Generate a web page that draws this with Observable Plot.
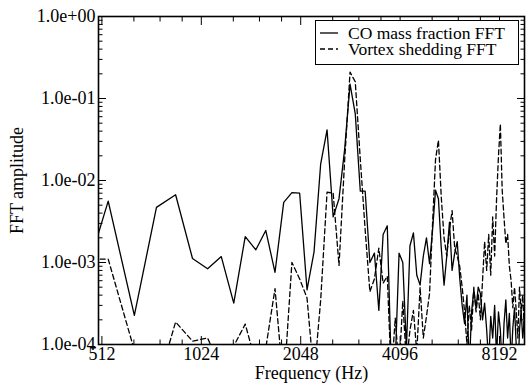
<!DOCTYPE html>
<html><head><meta charset="utf-8">
<script src="https://cdn.jsdelivr.net/npm/d3@7"></script>
<script src="https://cdn.jsdelivr.net/npm/@observablehq/plot@0.6"></script>
<style>
body{margin:0;background:#fff;}
#wrap{position:relative;width:527px;height:384px;}
#legend{position:absolute;left:315px;top:20px;}
</style></head><body><div id="wrap"></div>
<script>
// FFT bin frequencies (Hz)
const freq = [428,535,642,749,856,963,1070,1177,1284,1391,1498,1605,1712,1819,1926,2033,2140,2247,2354,2461,2568,2675,2782,2889,2996,3103,3210,3317,3424,3531,3638,3745,3852,3959,4066,4173,4280,4387,4494,4601,4708,4815,4922,5029,5136,5243,5350,5457,5564,5671,5778,5885,5992,6099,6206,6313,6420,6527,6634,6741,6848,6955,7062,7169,7276,7383,7490,7597,7704,7811,7918,8025,8132,8239,8346,8453,8560,8667,8774,8881,8988,9095,9202,9309,9416,9523,9630,9737];
// CO mass fraction FFT amplitude
const coFFT = [2.9e-4,5.6e-3,2.26e-4,4.7e-3,6.7e-3,1.12e-3,8.4e-4,1.18e-3,3.2e-4,2.07e-3,1.43e-3,2.46e-3,7.6e-4,5.4e-3,7.1e-3,7.0e-3,4.65e-4,1.34e-3,1.6e-2,4.15e-2,3.6e-3,6.0e-3,2.4e-2,0.15,6.5e-2,7.4e-3,7.4e-3,1.0e-3,1.3e-3,2.6e-4,2.2e-3,2.8e-3,5e-5,6e-5,1.3e-3,1.0e-3,9e-5,1.6e-3,2.3e-3,7e-4,5.3e-4,1.2e-3,2.0e-3,9.7e-4,2.5e-3,7.6e-3,6.0e-3,1.5e-3,5.3e-4,1.2e-3,3.1e-3,8e-4,1.3e-3,1.8e-3,6.5e-4,3.0e-4,1.8e-4,4.0e-4,5e-5,2.5e-4,4.6e-4,2.8e-4,5.0e-4,4.2e-4,2.0e-4,3.2e-4,1.5e-4,6e-5,2.2e-4,1.2e-4,3e-4,7e-5,2.5e-4,1.5e-4,5e-5,1.8e-4,3.5e-4,1.2e-4,2.4e-4,6e-5,1.6e-4,2.8e-4,1.0e-4,4e-5,1.5e-4,2.6e-4,1.2e-4,2e-4];
// Vortex shedding FFT amplitude
const vortexFFT = [1.1e-3,1.1e-3,8.5e-5,3e-5,1.88e-4,1.1e-4,1.2e-4,5e-5,9.6e-5,1.77e-4,6e-5,9e-5,4.8e-4,3e-5,1.0e-3,6.3e-4,3.7e-4,4e-5,3.5e-4,7.2e-3,7.0e-3,9.2e-4,1.75e-2,0.21,0.16,1.8e-2,2.5e-3,4.4e-4,6.3e-4,1.5e-3,5.6e-4,6.8e-4,4e-5,2.1e-4,5e-5,3.4e-4,6e-5,1.5e-4,2.6e-4,8e-5,5e-4,1.2e-4,2.2e-4,4.2e-4,3e-3,1.8e-2,3.1e-2,6.3e-3,2.0e-3,1.2e-3,2.5e-3,4.3e-3,1.5e-3,1.2e-3,9e-4,5e-4,2.5e-4,1e-4,3e-4,1.5e-4,5e-4,2.5e-4,4.2e-4,2e-4,6e-4,1.8e-3,8e-4,2.2e-3,7e-4,3.6e-3,1.2e-3,6e-3,2e-2,4.9e-2,7.6e-3,3.5e-3,1.7e-3,2.2e-3,9e-4,6e-4,2.8e-4,5e-4,2.6e-4,1.2e-4,5e-4,2.5e-4,4e-4,1.5e-4];
const seriesNames = ["CO mass fraction FFT", "Vortex shedding FFT"];
const xTicks = [512, 1024, 2048, 4096, 8192];
const xTickLabels = ["512", "1024", "2048", "4096", "8192"];
const xMinorTicks = [640, 768, 896, 1280, 1536, 1792, 2560, 3072, 3584, 5120, 6144, 7168];
const yTicks = [1e-4, 1e-3, 1e-2, 1e-1, 1];
const yTickLabels = ["1.0e-04", "1.0e-03", "1.0e-02", "1.0e-01", "1.0e+00"];
const yMinorTicks = [];
for (const d of [1e-4, 1e-3, 1e-2, 1e-1]) for (let m = 2; m <= 9; m++) yMinorTicks.push(m * d);

const rows = freq.map((f, i) => ({f, co: coFFT[i], vx: vortexFFT[i]}));
const font = "Liberation Serif, Times New Roman, serif";
const blank = () => "";

const plot = Plot.plot({
  width: 527, height: 384,
  marginLeft: 98, marginRight: 3, marginTop: 16, marginBottom: 40,
  style: {fontFamily: font, fontSize: "18px", color: "#000", background: "#fff"},
  x: {type: "log", base: 2, domain: [500, 9750]},
  y: {type: "log", domain: [1e-4, 1]},
  marks: [
    Plot.line(rows, {x: "f", y: "co", stroke: "#000", strokeWidth: 1.3, clip: true}),
    Plot.line(rows, {x: "f", y: "vx", stroke: "#000", strokeWidth: 1.3, strokeDasharray: "5,3", clip: true}),
    Plot.frame({stroke: "#000", strokeWidth: 1.6}),
    Plot.axisX({ticks: xTicks, tickSize: -8, tickPadding: 11, tickFormat: (d, i) => xTickLabels[xTicks.indexOf(d)],
      label: "Frequency (Hz)", labelAnchor: "center", labelArrow: "none", labelOffset: 34}),
    Plot.axisX({ticks: xMinorTicks, tickSize: -4.5, tickFormat: blank, label: null}),
    Plot.axisX({anchor: "top", ticks: xTicks, tickSize: -8, tickFormat: blank, label: null}),
    Plot.axisX({anchor: "top", ticks: xMinorTicks, tickSize: -4.5, tickFormat: blank, label: null}),
    Plot.axisY({ticks: yTicks, tickSize: -8, tickPadding: 11, tickFormat: d => yTickLabels[yTicks.indexOf(d)],
      label: "FFT amplitude", labelAnchor: "center", labelArrow: "none", labelOffset: 88}),
    Plot.axisY({ticks: yMinorTicks, tickSize: -4.5, tickFormat: blank, label: null}),
    Plot.axisY({anchor: "right", ticks: yTicks, tickSize: -8, tickFormat: blank, label: null}),
    Plot.axisY({anchor: "right", ticks: yMinorTicks, tickSize: -4.5, tickFormat: blank, label: null})
  ]
});

const wrap = document.getElementById("wrap");
wrap.appendChild(plot);

// legend box
const ns = "http://www.w3.org/2000/svg";
const leg = document.createElementNS(ns, "svg");
leg.setAttribute("id", "legend");
leg.setAttribute("width", 204);
leg.setAttribute("height", 45);
leg.innerHTML = `<rect x="0.5" y="0.5" width="203" height="44" fill="#fff" stroke="#000" stroke-width="1"/>`;
seriesNames.forEach((name, i) => {
  const cy = 13 + i * 16;
  const line = document.createElementNS(ns, "line");
  line.setAttribute("x1", 5); line.setAttribute("x2", 23);
  line.setAttribute("y1", cy); line.setAttribute("y2", cy);
  line.setAttribute("stroke", "#000"); line.setAttribute("stroke-width", 1.3);
  if (i === 1) line.setAttribute("stroke-dasharray", "5,3");
  leg.appendChild(line);
  const t = document.createElementNS(ns, "text");
  t.setAttribute("x", 33); t.setAttribute("y", cy);
  t.setAttribute("dy", "0.33em");
  t.setAttribute("font-family", font);
  t.setAttribute("font-size", 17.5);
  t.textContent = name;
  leg.appendChild(t);
});
wrap.appendChild(leg);
</script></body></html>
